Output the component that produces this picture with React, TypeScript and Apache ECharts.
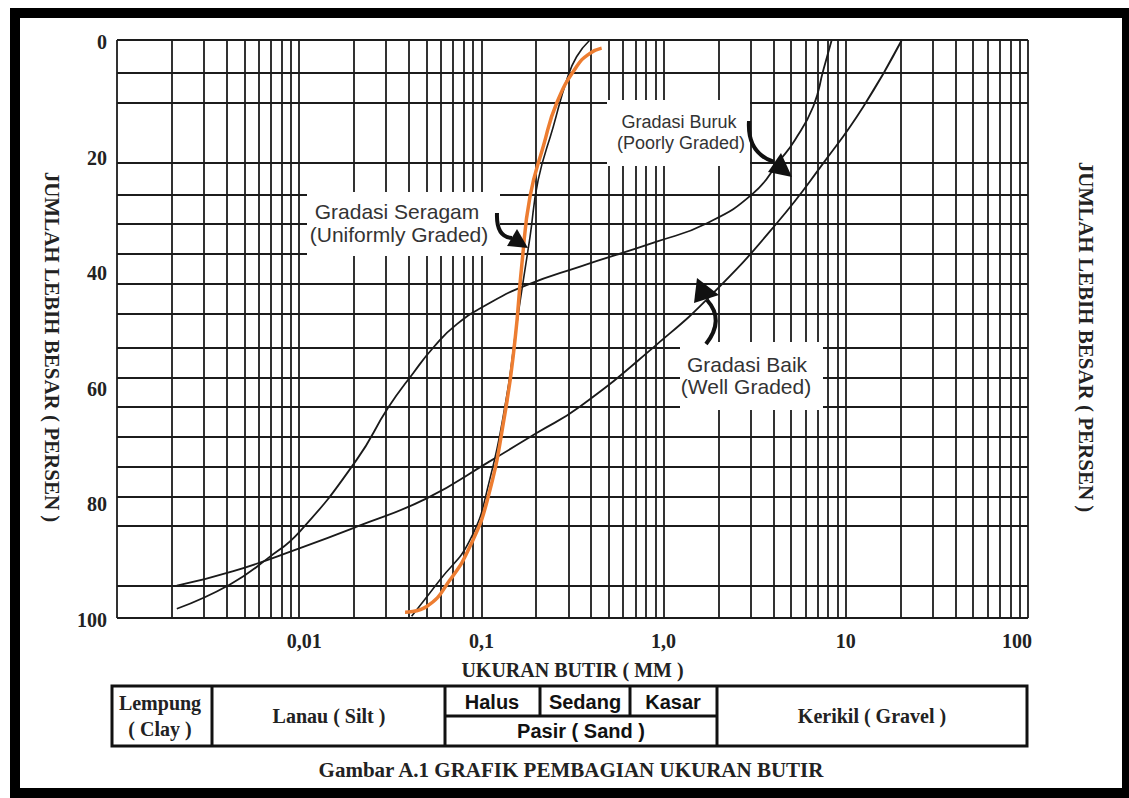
import React, { useEffect, useRef } from 'react';
import * as echarts from 'echarts';

// ---- axis ticks / grid ----
const yTickLabels = [0, 20, 40, 60, 80, 100];
const xTickLabels = ['', '0,01', '0,1', '1,0', '10', '100']; // for 0.001, 0.01, 0.1, 1, 10, 100
const decadeStarts = [0.001, 0.01, 0.1, 1, 10];
const decadeMultipliers = [1, 2, 3, 4, 5, 6, 7, 8, 9];
const xGridValues = decadeStarts
  .flatMap((d) => decadeMultipliers.map((m) => +(d * m).toPrecision(3)))
  .concat([100]);
const yGridValues = [0, 5.6, 10.8, 21.3, 26.7, 31.8, 37, 42.2, 47.4, 53.2, 58.4, 63.5, 68.6, 73.8, 79, 84, 94.5, 100];

// ---- curves: [grain size (mm), percent] ----
const wellGraded = [
  [0.00213, 94.4], [0.00435, 91.9], [0.0101, 87.9], [0.0207, 84.2],
  [0.0501, 79.3], [0.111, 72.9], [0.201, 68.0], [0.348, 63.4], [0.916, 52.7],
  [1.87, 43.8], [4.18, 31.7], [7.53, 21.3], [12.5, 11.5], [20.3, 0],
];
const poorlyGraded = [
  [0.00213, 98.4], [0.00417, 94.2], [0.00677, 89.6], [0.0101, 85.0],
  [0.0207, 72.6], [0.0308, 63.6], [0.0423, 57.6], [0.0545, 53.2], [0.0731, 49.2],
  [0.111, 45.5], [0.177, 42.4], [0.348, 39.2], [0.916, 34.9],
  [1.73, 31.7], [3.11, 26.5], [4.35, 20.8], [5.26, 17.3], [6.63, 11.5], [7.53, 5.2], [8.37, 0],
];
const uniformGraded = [
  [0.0414, 99.7], [0.0593, 93.4], [0.0866, 86.5], [0.111, 76.1],
  [0.1365, 62.3], [0.1548, 50.1], [0.169, 42.0], [0.1848, 34.1], [0.205, 24.2],
  [0.248, 15.0], [0.294, 6.9], [0.333, 2.9], [0.394, 0],
];
const uniformOrange = [
  [0.0381, 99.0], [0.0501, 98.0], [0.0673, 93.4], [0.0866, 87.6], [0.108, 79.5],
  [0.1347, 64.6], [0.1529, 51.9], [0.167, 38.6], [0.1848, 27.1],
  [0.2187, 18.4], [0.259, 10.9], [0.333, 4.6], [0.394, 2.3], [0.457, 1.4],
];

const SERIF = '"Liberation Serif", "Times New Roman", serif';
const SANS = '"Liberation Sans", Arial, sans-serif';
const INK = '#1a1a1a';

function txt(text: string, x: number, y: number, font: string, fill = '#111', extra: any = {}) {
  return {
    type: 'text',
    x,
    y,
    z: 6,
    ...extra,
    style: {
      text,
      font,
      fill,
      align: 'center',
      verticalAlign: 'middle',
      textAlign: 'center',
      textVerticalAlign: 'middle',
    },
  };
}

function box(x: number, y: number, w: number, h: number) {
  return { type: 'rect', z: 3, shape: { x, y, width: w, height: h }, style: { fill: '#fff' } };
}

function bar(x: number, y: number, w: number, h: number) {
  return { type: 'rect', z: 10, shape: { x, y, width: w, height: h }, style: { fill: '#000' } };
}

function line(x1: number, y1: number, x2: number, y2: number, w = 3) {
  return { type: 'line', z: 6, shape: { x1, y1, x2, y2 }, style: { stroke: '#111', lineWidth: w } };
}

function arrow(shaft: number[], head: number[][]) {
  const [x1, y1, cpx1, cpy1, x2, y2] = shaft;
  return [
    { type: 'bezierCurve', z: 7, shape: { x1, y1, cpx1, cpy1, x2, y2 }, style: { stroke: '#111', lineWidth: 4, fill: null } },
    { type: 'polygon', z: 7, shape: { points: head }, style: { fill: '#111' } },
  ];
}

export default function App() {
  const ref = useRef<HTMLDivElement>(null);

  useEffect(() => {
    if (!ref.current) return;
    const chart = echarts.init(ref.current, null, { renderer: 'svg' });

    const gridData = [
      ...xGridValues.map((v) => ({ coords: [[v, 0], [v, 100]] })),
      ...yGridValues.map((v) => ({ coords: [[0.001, v], [100, v]] })),
    ];

    const curveSeries = (name: string, data: number[][], color: string, width: number, z: number) => ({
      type: 'line',
      name,
      data,
      z,
      smooth: 0.5,
      symbol: 'none',
      silent: true,
      lineStyle: { color, width },
    });

    const graphics: any[] = [
      // outer frame
      bar(10, 8, 1119, 10),
      bar(10, 788, 1119, 10),
      bar(10, 8, 10, 790),
      bar(1122, 8, 7, 790),
      // annotation boxes (cover grid)
      box(307, 192, 193, 64),
      box(607, 100, 143, 66),
      box(680, 342, 143, 68),
      // annotation texts
      txt('Gradasi Seragam', 397, 211, `21px ${SANS}`, '#333'),
      txt('(Uniformly Graded)', 399, 234, `21px ${SANS}`, '#333'),
      txt('Gradasi Buruk', 679, 122, `18px ${SANS}`, '#333'),
      txt('(Poorly Graded)', 681, 143, `18px ${SANS}`, '#333'),
      txt('Gradasi Baik', 747, 364, `21px ${SANS}`, '#333'),
      txt('(Well Graded)', 746, 386, `21px ${SANS}`, '#333'),
      // arrows
      ...arrow([497, 213, 496, 237, 512, 238], [[528, 248], [507, 246], [517, 229]]),
      ...arrow([749, 121, 747, 153, 774, 162], [[792, 177], [768, 172], [781, 153]]),
      ...arrow([706, 344, 725, 320, 707, 300], [[697, 278], [694, 303], [719, 295]]),
      // side titles
      txt('JUMLAH LEBIH BESAR ( PERSEN )', 52, 347, `bold 21px ${SERIF}`, '#222', { rotation: -Math.PI / 2 }),
      txt('JUMLAH LEBIH BESAR ( PERSEN )', 1086, 337, `bold 21px ${SERIF}`, '#222', { rotation: -Math.PI / 2 }),
      // classification table
      { type: 'rect', z: 6, shape: { x: 112, y: 686, width: 915, height: 60 }, style: { fill: '#fff', stroke: '#111', lineWidth: 3 } },
      line(212, 686, 212, 746),
      line(445, 686, 445, 746),
      line(717, 686, 717, 746),
      line(540, 686, 540, 716),
      line(630, 686, 630, 716),
      line(445, 716, 717, 716),
      txt('Lempung', 160, 703, `bold 20px ${SERIF}`, '#222', { z: 8 }),
      txt('( Clay )', 160, 729, `bold 20px ${SERIF}`, '#222', { z: 8 }),
      txt('Lanau ( Silt )', 329, 716, `bold 20px ${SERIF}`, '#222', { z: 8 }),
      txt('Halus', 492, 702, `bold 20px ${SANS}`, '#111', { z: 8 }),
      txt('Sedang', 585, 702, `bold 20px ${SANS}`, '#111', { z: 8 }),
      txt('Kasar', 673, 702, `bold 20px ${SANS}`, '#111', { z: 8 }),
      txt('Pasir ( Sand )', 581, 731, `bold 20px ${SANS}`, '#111', { z: 8 }),
      txt('Kerikil ( Gravel )', 872, 716, `bold 20px ${SERIF}`, '#222', { z: 8 }),
      txt('Gambar A.1 GRAFIK PEMBAGIAN UKURAN BUTIR', 571, 770, `bold 21px ${SERIF}`, '#222', { z: 8 }),
    ];

    chart.setOption({
      animation: false,
      backgroundColor: '#fff',
      grid: { left: 117, top: 40, width: 911, height: 578 },
      xAxis: {
        type: 'log',
        logBase: 10,
        min: 0.001,
        max: 100,
        axisLine: { show: false },
        axisTick: { show: false },
        splitLine: { show: false },
        axisLabel: {
          margin: 13,
          color: '#222',
          fontFamily: SERIF,
          fontWeight: 'bold',
          fontSize: 20,
          formatter: (v: number) => {
            const i = Math.round(Math.log10(v)) + 3;
            const t = xTickLabels[i] ?? '';
            if (!t) return '';
            if (i === 5) return `{last|${t}}`;
            if (i === 1) return `{first|${t}}`;
            return `{n|${t}}`;
          },
          rich: {
            n: { fontFamily: SERIF, fontWeight: 'bold', fontSize: 20, color: '#222' },
            first: { fontFamily: SERIF, fontWeight: 'bold', fontSize: 20, color: '#222', padding: [0, 0, 0, 10] },
            last: { fontFamily: SERIF, fontWeight: 'bold', fontSize: 20, color: '#222', padding: [0, 22, 0, 0] },
          },
        },
        name: 'UKURAN BUTIR ( MM )',
        nameLocation: 'middle',
        nameGap: 42,
        nameTextStyle: { fontFamily: SERIF, fontWeight: 'bold', fontSize: 20, color: '#222', verticalAlign: 'top' },
      },
      yAxis: {
        type: 'value',
        inverse: true,
        min: yTickLabels[0],
        max: yTickLabels[yTickLabels.length - 1],
        interval: 20,
        axisLine: { show: false },
        axisTick: { show: false },
        splitLine: { show: false },
        axisLabel: {
          margin: 10,
          color: '#222',
          fontFamily: SERIF,
          fontWeight: 'bold',
          fontSize: 20,
          verticalAlign: 'top',
          lineHeight: 4,
        },
      },
      series: [
        {
          type: 'lines',
          coordinateSystem: 'cartesian2d',
          silent: true,
          z: 1,
          lineStyle: { color: '#1c1c1c', width: 1.8, opacity: 1, curveness: 0 },
          data: gridData,
        },
        curveSeries('Gradasi Baik', wellGraded, INK, 1.8, 5),
        curveSeries('Gradasi Buruk', poorlyGraded, INK, 1.8, 5),
        curveSeries('Gradasi Seragam', uniformGraded, INK, 1.6, 5),
        curveSeries('Gradasi Seragam (overlay)', uniformOrange, '#ED7D31', 3.5, 6),
      ],
      graphic: { elements: graphics },
    });

    return () => chart.dispose();
  }, []);

  return (
    <div
      ref={ref}
      style={{ position: 'fixed', left: 0, top: 0, width: 1129, height: 798 }}
    />
  );
}
